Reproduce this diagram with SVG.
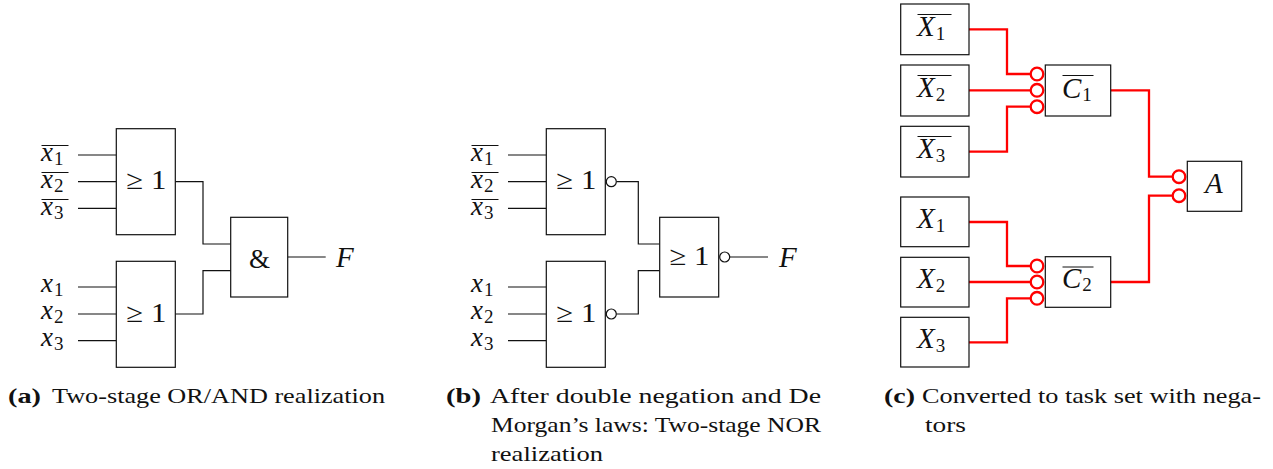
<svg xmlns="http://www.w3.org/2000/svg" width="1273" height="469" viewBox="0 0 1273 469">
<style>
text{font-family:"Liberation Serif","Times New Roman",serif;fill:#111}
.b{fill:#fff;stroke:#111;stroke-width:1.2}
.w{fill:none;stroke:#111;stroke-width:1.2}
.o{fill:#fff;stroke:#111;stroke-width:1.2}
.r{fill:none;stroke:#f00;stroke-width:2.300}
.ro{fill:#fff;stroke:#f00;stroke-width:2.300}
.ob{stroke:#111;stroke-width:1;fill:none}
.v{font-size:27px;font-style:italic}
.V{font-size:29px;font-style:italic}
.s{font-size:19px;font-style:normal}
.g{font-size:27px}
.c{font-size:22px}
.cb{font-size:21px;font-weight:bold}
</style>
<defs>
<g id="gate-tall"><rect class="b" x="0" y="0" width="59" height="106"/><text class="g" x="10" y="60.500" textLength="40" lengthAdjust="spacingAndGlyphs">≥ 1</text></g>
</defs>

<g id="connectors-a">
<path class="w" d="M78 155H116M78 181.700H116M78 208.300H116M78 287H116M78 314H116M78 340.700H116"/>
<path class="w" d="M175.300 181.700H203V244H230.700M175.300 314H203V270.700H230.700M287.700 257H325.700"/>
</g>
<g id="a-in1"><text class="v" x="41" y="161">x<tspan class="s" dx="1" dy="4">1</tspan></text><path class="ob" d="M41.500 145.500H68.500"/></g>
<g id="a-in2"><text class="v" x="41" y="188">x<tspan class="s" dx="1" dy="4">2</tspan></text><path class="ob" d="M41.500 172.500H68.500"/></g>
<g id="a-in3"><text class="v" x="41" y="215">x<tspan class="s" dx="1" dy="4">3</tspan></text><path class="ob" d="M41.500 199.500H68.500"/></g>
<g id="a-in4"><text class="v" x="41" y="292">x<tspan class="s" dx="1" dy="4">1</tspan></text></g>
<g id="a-in5"><text class="v" x="41" y="319">x<tspan class="s" dx="1" dy="4">2</tspan></text></g>
<g id="a-in6"><text class="v" x="41" y="345.500">x<tspan class="s" dx="1" dy="4">3</tspan></text></g>
<g id="a-or1"><use href="#gate-tall" x="116.300" y="128.700"/></g>
<g id="a-or2"><use href="#gate-tall" x="116.300" y="261.300"/></g>
<g id="a-and"><rect class="b" x="230.700" y="217.300" width="57" height="79.700"/><text class="g" x="249" y="267.500">&amp;</text></g>
<g id="a-out"><text class="V" x="336" y="267">F</text></g>
<text class="cb" x="8" y="403" textLength="33" lengthAdjust="spacingAndGlyphs">(a)</text><text class="c" x="52" y="403" textLength="333" lengthAdjust="spacingAndGlyphs">Two-stage OR/AND realization</text>

<g id="connectors-b">
<path class="w" d="M508 155H546M508 181.700H546M508 208.300H546M508 287H546M508 314H546M508 340.700H546"/>
<path class="w" d="M616.500 181.700H638.300V244H659.700M616.500 314H638.300V270.700H659.700M730 257H768"/>
</g>
<g id="b-in1"><text class="v" x="471" y="161">x<tspan class="s" dx="1" dy="4">1</tspan></text><path class="ob" d="M471.500 145.500H498.500"/></g>
<g id="b-in2"><text class="v" x="471" y="188">x<tspan class="s" dx="1" dy="4">2</tspan></text><path class="ob" d="M471.500 172.500H498.500"/></g>
<g id="b-in3"><text class="v" x="471" y="215">x<tspan class="s" dx="1" dy="4">3</tspan></text><path class="ob" d="M471.500 199.500H498.500"/></g>
<g id="b-in4"><text class="v" x="471" y="292">x<tspan class="s" dx="1" dy="4">1</tspan></text></g>
<g id="b-in5"><text class="v" x="471" y="319">x<tspan class="s" dx="1" dy="4">2</tspan></text></g>
<g id="b-in6"><text class="v" x="471" y="345.500">x<tspan class="s" dx="1" dy="4">3</tspan></text></g>
<g id="b-nor1"><use href="#gate-tall" x="546.300" y="128.700"/><circle class="o" cx="611.300" cy="181.700" r="5"/></g>
<g id="b-nor2"><use href="#gate-tall" x="546.300" y="261.300"/><circle class="o" cx="611.300" cy="314" r="5"/></g>
<g id="b-nor3"><rect class="b" x="659.700" y="217.300" width="59" height="79.700"/><text class="g" x="669.500" y="265" textLength="40" lengthAdjust="spacingAndGlyphs">≥ 1</text><circle class="o" cx="724.700" cy="257" r="5"/></g>
<g id="b-out"><text class="V" x="779" y="267">F</text></g>
<text class="cb" x="446" y="403" textLength="35" lengthAdjust="spacingAndGlyphs">(b)</text><text class="c" x="490" y="403" textLength="331" lengthAdjust="spacingAndGlyphs">After double negation and De</text>
<text class="c" x="491" y="432" textLength="330" lengthAdjust="spacingAndGlyphs">Morgan’s laws: Two-stage NOR</text>
<text class="c" x="491" y="461" textLength="112" lengthAdjust="spacingAndGlyphs">realization</text>

<g id="connectors-c">
<path class="r" d="M969 29.300H1007V74H1031M969 90.300H1031M969 151.700H1007V106.700H1031"/>
<path class="r" d="M969 222H1007V266H1031M969 282H1031M969 342.300H1007V298.300H1031"/>
<path class="r" d="M1110.700 90.300H1149V176.700H1173M1110.700 282H1149V195.700H1173"/>
<circle class="ro" cx="1037" cy="74" r="6.300"/><circle class="ro" cx="1037" cy="90.300" r="6.300"/><circle class="ro" cx="1037" cy="106.700" r="6.300"/>
<circle class="ro" cx="1037" cy="266" r="6.300"/><circle class="ro" cx="1037" cy="282" r="6.300"/><circle class="ro" cx="1037" cy="298.300" r="6.300"/>
<circle class="ro" cx="1179" cy="176.700" r="6.300"/><circle class="ro" cx="1179" cy="195.700" r="6.300"/>
</g>
<g id="c-nx1"><rect class="b" x="900.700" y="4" width="68.300" height="50.700"/><text class="V" x="917" y="36">X<tspan class="s" dx="1" dy="4">1</tspan></text><path class="ob" d="M917.500 14.500H951.500"/></g>
<g id="c-nx2"><rect class="b" x="900.700" y="65" width="68.300" height="51"/><text class="V" x="917" y="97.300">X<tspan class="s" dx="1" dy="4">2</tspan></text><path class="ob" d="M917.500 75.500H951.500"/></g>
<g id="c-nx3"><rect class="b" x="900.700" y="126.300" width="68.300" height="50.700"/><text class="V" x="917" y="158.300">X<tspan class="s" dx="1" dy="4">3</tspan></text><path class="ob" d="M917.500 136.500H951.500"/></g>
<g id="c-x1"><rect class="b" x="900.700" y="197" width="68.300" height="49.700"/><text class="V" x="917" y="228.300">X<tspan class="s" dx="1" dy="4">1</tspan></text></g>
<g id="c-x2"><rect class="b" x="900.700" y="257.300" width="68.300" height="49.700"/><text class="V" x="917" y="288.300">X<tspan class="s" dx="1" dy="4">2</tspan></text></g>
<g id="c-x3"><rect class="b" x="900.700" y="317.300" width="68.300" height="49.700"/><text class="V" x="917" y="348.300">X<tspan class="s" dx="1" dy="4">3</tspan></text></g>
<g id="c-c1"><rect class="b" x="1045.300" y="65" width="65.400" height="51"/><text class="V" x="1062" y="98">C<tspan class="s" dx="1" dy="3">1</tspan></text><path class="ob" d="M1062.500 75.500H1093.500"/></g>
<g id="c-c2"><rect class="b" x="1045.300" y="256.700" width="65.400" height="50.600"/><text class="V" x="1062" y="288.300">C<tspan class="s" dx="1" dy="3">2</tspan></text><path class="ob" d="M1062.500 267H1093.500"/></g>
<g id="c-a"><rect class="b" x="1187.300" y="161.300" width="54.400" height="50"/><text class="V" x="1205" y="193.300">A</text></g>
<text class="cb" x="884" y="403" textLength="31" lengthAdjust="spacingAndGlyphs">(c)</text><text class="c" x="922" y="403" textLength="339" lengthAdjust="spacingAndGlyphs">Converted to task set with nega-</text>
<text class="c" x="925" y="432" textLength="41" lengthAdjust="spacingAndGlyphs">tors</text>
</svg>
